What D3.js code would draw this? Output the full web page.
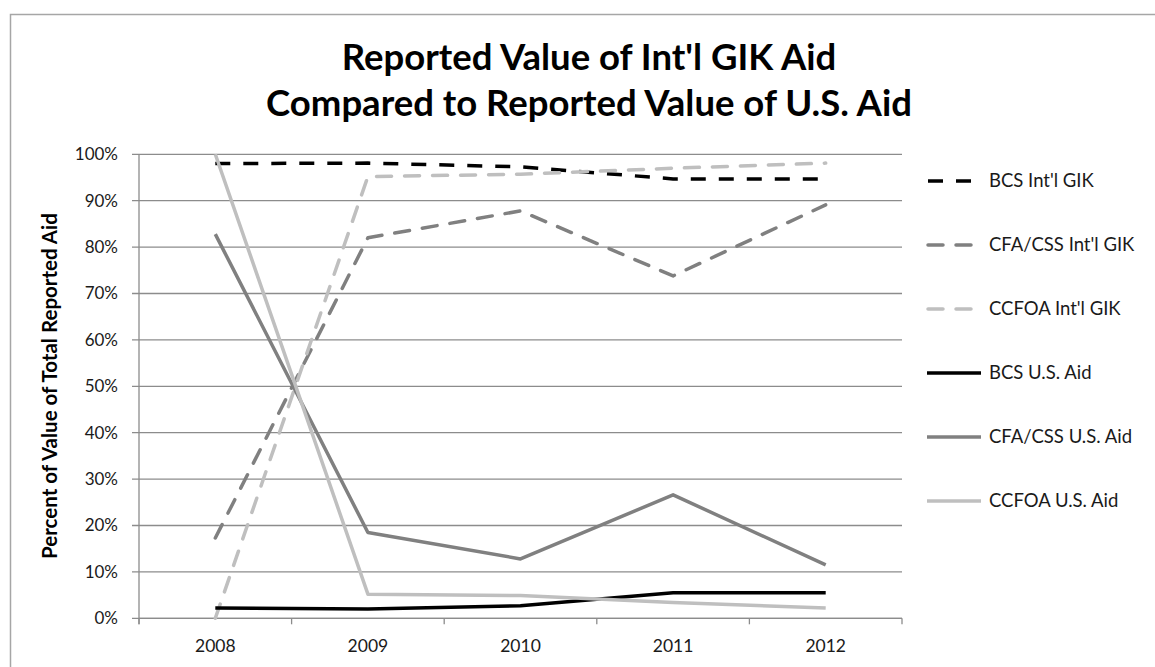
<!DOCTYPE html>
<html><head><meta charset="utf-8">
<script src="https://cdn.jsdelivr.net/npm/d3@7"></script>
<style>body{margin:0;background:#fff}svg{display:block}</style>
</head><body>
<svg id="c" width="1155" height="667"></svg>
<script>
const years = ["2008","2009","2010","2011","2012"];
const seriesNames = ["BCS Int'l GIK","CFA/CSS Int'l GIK","CCFOA Int'l GIK","BCS U.S. Aid","CFA/CSS U.S. Aid","CCFOA U.S. Aid"];
const bcsIntl   = [98.0, 98.1, 97.3, 94.7, 94.7];
const cfaIntl   = [17.3, 82.0, 87.8, 73.8, 89.1];
const ccfoaIntl = [0.0, 95.2, 95.7, 97.0, 98.1];
const bcsUS     = [2.2, 2.0, 2.7, 5.5, 5.5];
const cfaUS     = [82.8, 18.5, 12.8, 26.6, 11.5];
const ccfoaUS   = [100.0, 5.2, 4.9, 3.4, 2.2];
const yTicks = [0,10,20,30,40,50,60,70,80,90,100];
const titleLines = ["Reported Value of Int'l GIK Aid","Compared to Reported Value of U.S. Aid"];
const yTitle = "Percent of Value of Total Reported Aid";

const values = [bcsIntl, cfaIntl, ccfoaIntl, bcsUS, cfaUS, ccfoaUS];
const colors = ["#000000","#808080","#bfbfbf","#000000","#808080","#bfbfbf"];
const dashed = [true,true,true,false,false,false];

const svg = d3.select("#c");
const font = "Lato, 'Open Sans', sans-serif";
svg.append("rect").attr("x",10.5).attr("y",14.5).attr("width",1300).attr("height",800)
  .attr("fill","none").attr("stroke","#a6a6a6").attr("stroke-width",1.5);

const L=139, R=902, T=154.3, B=618.3;
const x = d3.scaleBand().domain(years).range([L,R]);
const y = d3.scaleLinear().domain([0,100]).range([B,T]);

// gridlines
svg.append("g").selectAll("line").data(yTicks).join("line")
  .attr("x1",132).attr("x2",R).attr("y1",d=>y(d)).attr("y2",d=>y(d))
  .attr("stroke","#8c8c8c").attr("stroke-width",1.3);

// y axis
svg.append("line").attr("x1",L).attr("x2",L).attr("y1",T).attr("y2",B+6)
  .attr("stroke","#8c8c8c").attr("stroke-width",1.3);
svg.append("g").selectAll("text").data(yTicks).join("text")
  .attr("x",118).attr("y",d=>y(d)).attr("dy","0.35em").attr("text-anchor","end")
  .attr("font-family",font).attr("font-size",17).attr("fill","#1a1a1a")
  .text(d=>d+"%");

// x axis
const xAxis = d3.axisBottom(x).tickSize(0).tickPadding(0);
const gx = svg.append("g").attr("transform",`translate(0,${B})`).call(xAxis);
gx.select(".domain").remove();
gx.selectAll("text").attr("y",28).attr("dy","0.35em").attr("font-family",font).attr("font-size",17.5).attr("fill","#1a1a1a");
const bounds = years.map(d=>x(d)).concat([R]);
svg.append("g").selectAll("line").data(bounds).join("line")
  .attr("x1",d=>d).attr("x2",d=>d).attr("y1",B).attr("y2",B+6)
  .attr("stroke","#8c8c8c").attr("stroke-width",1.3);
svg.append("line").attr("x1",L).attr("x2",R).attr("y1",B).attr("y2",B)
  .attr("stroke","#8c8c8c").attr("stroke-width",1.3);

// lines
const line = d3.line().x((d,i)=>x(years[i])+x.bandwidth()/2).y(d=>y(d));
values.forEach((vals,k)=>{
  svg.append("path").datum(vals).attr("d",line).attr("fill","none")
    .attr("stroke",colors[k]).attr("stroke-width",3.5)
    .attr("stroke-dasharray",dashed[k]?"15,13":null)
    .attr("stroke-linecap",dashed[k]&&k>0?"round":"butt")
    .attr("stroke-linejoin","round");
});

// title
svg.append("g").selectAll("text").data(titleLines).join("text")
  .attr("x",589).attr("y",(d,i)=>57+i*46).attr("dy","0.35em").attr("text-anchor","middle")
  .attr("font-family",font).attr("font-weight","bold").attr("font-size",36.5).attr("fill","#000")
  .text(d=>d);

// y title
svg.append("text").attr("transform","translate(50,386) rotate(-90)")
  .attr("text-anchor","middle").attr("dy","0.35em")
  .attr("font-family",font).attr("font-weight","bold").attr("font-size",20.5).attr("fill","#000")
  .text(yTitle);

// legend
const lg = svg.append("g").selectAll("g").data(seriesNames).join("g")
  .attr("transform",(d,i)=>`translate(0,${181+i*64})`);
lg.append("line").attr("x1",(d,i)=>dashed[i]?928:927).attr("x2",981).attr("y1",0).attr("y2",0)
  .attr("stroke",(d,i)=>colors[i]).attr("stroke-width",3.5)
  .attr("stroke-dasharray",(d,i)=>dashed[i]?"15,13":null)
  .attr("stroke-linecap",(d,i)=>dashed[i]&&i>0?"round":"butt");
lg.append("text").attr("x",989).attr("y",0).attr("dy","0.35em")
  .attr("font-family",font).attr("font-size",18.5).attr("fill","#1a1a1a").text(d=>d);
</script>
</body></html>
